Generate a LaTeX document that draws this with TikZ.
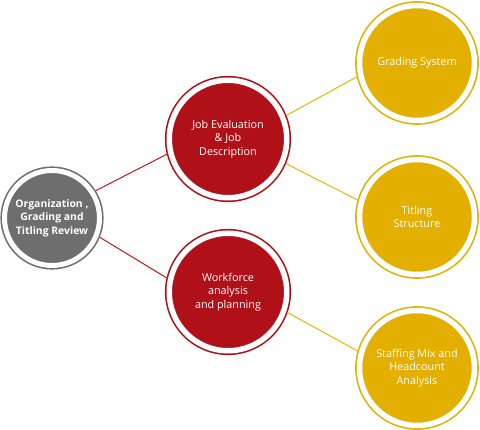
\documentclass[tikz,border=0pt]{standalone}
\usepackage{fontspec}
\setmainfont{Open Sans}
\definecolor{cgray}{HTML}{6E6E6E}
\definecolor{cred}{HTML}{B01118}
\definecolor{credline}{HTML}{C0161D}
\definecolor{cyel}{HTML}{E3AF00}
\definecolor{cyelline}{HTML}{E8B600}
\tikzset{
  bub/.style n args={3}{circle, fill=#1, draw=#1, double=white, double distance=#2,
    line width=1.6pt, minimum size=#3, inner sep=0pt, outer sep=0.5*#2+1.6pt,
    text=white, align=center, font=\fontsize{10.8}{13.4}\selectfont},
  graybub/.style={bub={cgray}{5pt}{95pt}, font=\bfseries\fontsize{10.4}{13.6}\selectfont},
  redbub/.style={bub={cred}{5.5pt}{117.5pt}},
  yelbub/.style={bub={cyel}{5.5pt}{115pt}},
  redlink/.style={draw=credline, line width=1pt},
  yellink/.style={draw=cyelline, line width=1pt}
}
\begin{document}
\begin{tikzpicture}[x=1pt,y=-1pt]
\useasboundingbox (0,0) rectangle (480,430);
\node[graybub] (g) at (52,218) {Organization ,\\Grading and\\Titling Review};
\node[redbub] (r1) at (228,139) {Job Evaluation\\\& Job\\Description};
\node[redbub] (r2) at (228,292) {Workforce\\analysis\\and planning};
\node[yelbub] (y1) at (417,63) {Grading System};
\node[yelbub] (y2) at (417,217) {Titling\\Structure};
\node[yelbub] (y3) at (417,368) {Staffing Mix and\\Headcount\\Analysis};
\draw[redlink] (g.32) -- (r1.194);
\draw[redlink] (g.338) -- (r2.167);
\draw[yellink] (r1.22) -- (y1.193);
\draw[yellink] (r1.337) -- (y2.164);
\draw[yellink] (r2.341) -- (y3.164);
\end{tikzpicture}
\end{document}
